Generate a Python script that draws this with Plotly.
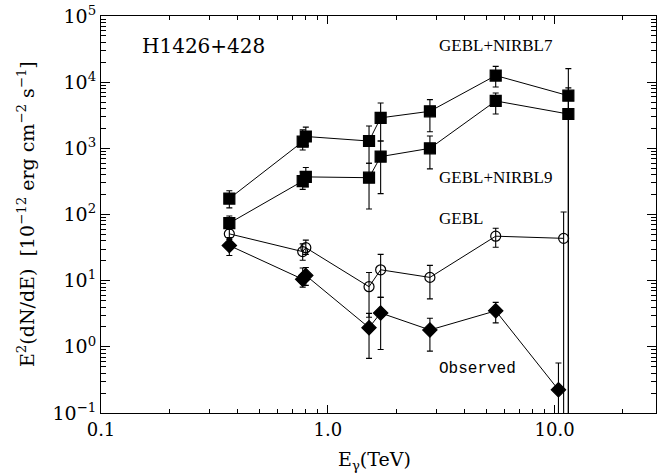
import plotly.graph_objects as go
import numpy as np

# ---------------- data ----------------
E_obs = [0.368, 0.775, 0.80, 1.52, 1.71, 2.82, 5.5, 10.4]
F_obs = [34, 10.5, 12, 1.95, 3.25, 1.8, 3.5, 0.224]
HI_obs = [42, 15.5, 15.8, 3.2, 5.6, 2.7, 4.7, 0.57]
LO_obs = [24, 8, 8.5, 0.67, 0.91, 0.86, 2.3, 0]

E_gebl = [0.368, 0.775, 0.80, 1.52, 1.71, 2.82, 5.5, 10.96]
F_gebl = [51, 27.5, 31.5, 8.1, 14.6, 11.2, 47, 43.6]
HI_gebl = [60, 36, 41, 13.3, 25, 17, 62, 109]
LO_gebl = [45, 20.4, 25, 2.8, 5.6, 5.3, 32, 0]

E_n9 = [0.368, 0.775, 0.80, 1.52, 1.71, 2.82, 5.5, 11.5]
F_n9 = [74, 320, 370, 360, 750, 1000, 5200, 3300]
HI_n9 = [95, 440, 513, 596, 1290, 1540, 6860, 8200]
LO_n9 = [60, 240, 260, 121, 207, 490, 3300, 0]

E_n7 = [0.368, 0.775, 0.80, 1.52, 1.71, 2.82, 5.5, 11.5]
F_n7 = [174, 1260, 1510, 1290, 2890, 3630, 12600, 6250]
HI_n7 = [229, 1900, 2090, 2170, 4850, 5440, 17300, 16000]
LO_n7 = [126, 946, 1100, 596, 1290, 1780, 8440, 0]

x_tickvals = [0.1, 1.0, 10.0]
x_ticktext = ["0.1", "1.0", "10.0"]
y_exponents = [-1, 0, 1, 2, 3, 4, 5]

labels = ["H1426+428", "GEBL+NIRBL7", "GEBL+NIRBL9", "GEBL", "Observed"]


def errs(F, HI, LO):
    F = np.array(F, float)
    HI = np.array(HI, float)
    LO = np.array(LO, float)
    plus = HI - F
    # a lower bound of 0 (off the log axis) runs the bar down past the axis
    lo_eff = np.where(LO > 0, LO, 1e-4)
    minus = F - lo_eff
    return plus, minus


fig = go.Figure()

series = [
    (E_n7, F_n7, HI_n7, LO_n7, "square", 11),
    (E_n9, F_n9, HI_n9, LO_n9, "square", 11),
    (E_gebl, F_gebl, HI_gebl, LO_gebl, "circle-open", 10),
    (E_obs, F_obs, HI_obs, LO_obs, "diamond", 11),
]
for E, F, HI, LO, sym, sz in series:
    p, m = errs(F, HI, LO)
    fig.add_trace(go.Scatter(
        x=E, y=F, mode="lines+markers",
        line=dict(color="black", width=1),
        marker=dict(symbol=sym, size=sz, color="black",
                    line=dict(color="black", width=1.2)),
        error_y=dict(type="data", array=p, arrayminus=m, symmetric=False,
                     color="black", thickness=1.1, width=3),
        showlegend=False,
    ))

x_minor = [k * 10.0 ** n for n in (-1, 0, 1) for k in range(2, 10) if k * 10.0 ** n < 28]
y_minor = [k * 10.0 ** n for n in range(-1, 5) for k in range(2, 10)]

axis_font = dict(family="DejaVu Serif", size=18, color="black")

fig.update_xaxes(
    type="log", range=[-1, np.log10(28)],
    tickmode="array", tickvals=x_tickvals, ticktext=x_ticktext,
    ticks="inside", ticklen=8, tickwidth=1, tickcolor="black",
    minor=dict(tickmode="array", tickvals=x_minor, ticks="inside",
               ticklen=4, tickwidth=1, tickcolor="black", showgrid=False),
    showline=True, linecolor="black", linewidth=1, mirror="ticks",
    showgrid=False, zeroline=False, tickfont=axis_font,
)
fig.update_yaxes(
    type="log", range=[-1, 5],
    tickmode="array", tickvals=[10.0 ** e for e in y_exponents],
    ticktext=["10<sup>%s</sup>" % (str(e).replace("-", "−")) for e in y_exponents],
    ticks="inside", ticklen=9, tickwidth=1, tickcolor="black",
    minor=dict(tickmode="array", tickvals=y_minor, ticks="inside",
               ticklen=5, tickwidth=1, tickcolor="black", showgrid=False),
    showline=True, linecolor="black", linewidth=1, mirror="ticks",
    showgrid=False, zeroline=False, tickfont=dict(family="DejaVu Serif", size=19, color="black"),
)

ann = []
ann.append(dict(text=labels[0], x=0.0707, y=0.925, xref="paper", yref="paper",
                xanchor="left", yanchor="middle", showarrow=False,
                font=dict(family="DejaVu Serif", size=20, color="black")))
for txt, yy in [(labels[1], 0.926), (labels[2], 0.593), (labels[3], 0.489)]:
    ann.append(dict(text=txt, x=0.6046, y=yy, xref="paper", yref="paper",
                    xanchor="left", yanchor="middle", showarrow=False,
                    font=dict(family="Liberation Serif", size=17, color="black")))
ann.append(dict(text=labels[4], x=0.6046, y=0.112, xref="paper", yref="paper",
                xanchor="left", yanchor="middle", showarrow=False,
                font=dict(family="Liberation Mono", size=16, color="black")))
ann.append(dict(text="E<sub>γ</sub>(TeV)", x=0.493, y=-0.12, xref="paper", yref="paper",
                xanchor="center", yanchor="middle", showarrow=False,
                font=dict(family="DejaVu Serif", size=19, color="black")))
ann.append(dict(text="E<sup>2</sup>(dN/dE)  [10<sup>−12</sup> erg cm<sup>−2</sup> s<sup>−1</sup>]",
                x=-0.136, y=0.5, xref="paper", yref="paper", textangle=-90,
                xanchor="center", yanchor="middle", showarrow=False,
                font=dict(family="DejaVu Serif", size=19, color="black")))

fig.update_layout(
    width=660, height=476,
    margin=dict(l=101, r=3, t=14, b=63),
    paper_bgcolor="white", plot_bgcolor="white",
    annotations=ann,
)

fig.write_html("out.html")
